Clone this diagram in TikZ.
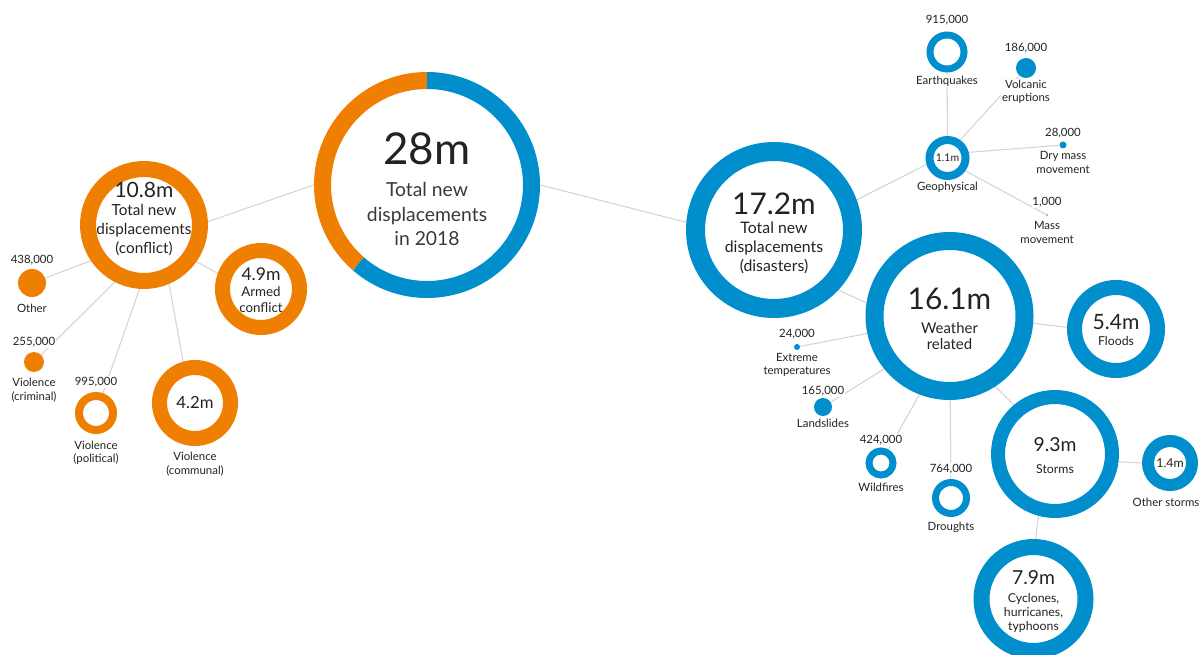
\documentclass[tikz,border=0pt]{standalone}
\usepackage{fontspec}
\setmainfont{Lato}
\usetikzlibrary{backgrounds}
\definecolor{idmcorange}{RGB}{238, 127, 0}
\definecolor{idmcblue}{RGB}{0, 143, 204}
\definecolor{linkgray}{RGB}{212, 212, 212}
\definecolor{inkgray}{RGB}{35, 35, 35}

\tikzset{
    ring/.style n args={3}{circle, draw=#1, fill=white, inner sep=0pt,
        line width=#3*0.02cm, minimum size={(2*#2-#3)*0.02cm}},
    blob/.style 2 args={circle, fill=#1, inner sep=0pt, minimum size={2*#2*0.02cm}},
    link/.style={draw=linkgray, line width=0.6pt},
    tag/.style={font=\fontsize{6.5}{7.6}\selectfont, text=inkgray, align=center, fill=white, inner sep=0.4pt},
    val/.style={text=inkgray, align=center, inner sep=0pt},
}

\begin{document}
\begin{tikzpicture}[x=0.02cm, y=0.02cm]
            \useasboundingbox (0,0) rectangle (1200,-655);
            % Total
            \node[circle, fill=white, inner sep=0pt, minimum size=226*0.02cm] (total) at (427,-185) {};
            \draw[idmcorange, line width=17*0.02cm] ([shift={(90:104.5)}]total.center) arc[start angle=90, end angle=229, radius=104.5];
            \draw[idmcblue,   line width=17*0.02cm] ([shift={(229:104.5)}]total.center) arc[start angle=229, end angle=450, radius=104.5];
            \node[val, font=\fontsize{25}{30}\selectfont] (total-val) at (427,-149) {28m};
            \node[val, font=\fontsize{11}{14.2}\selectfont, text=inkgray!90] (total-txt) at (427,-214) {Total new\\displacements\\in 2018};
            % Conflict side
            \node[ring={idmcorange}{64}{16}] (conflict) at (144,-225) {};
            \node[val, font=\fontsize{12}{14}\selectfont] (conflict-val) at (144,-190) {10.8m};
            \node[val, font=\fontsize{8.7}{10.6}\selectfont] (conflict-txt) at (144,-230) {Total new\\displacements\\(conflict)};
            \node[ring={idmcorange}{46}{15}] (armed) at (261,-289) {};
            \node[val, font=\fontsize{10}{12}\selectfont] (armed-val) at (261,-274) {4.9m};
            \node[val, font=\fontsize{7.6}{9}\selectfont] (armed-txt) at (261,-300) {Armed\\conflict};
            \node[ring={idmcorange}{43}{15}] (communal) at (195,-403) {};
            \node[val, font=\fontsize{9.5}{11}\selectfont] (communal-val) at (195,-403) {4.2m};
            \node[tag] (communal-txt) at (195,-464) {Violence\\(communal)};
            \node[blob={idmcorange}{14}] (other) at (32,-283) {};
            \node[tag] (other-val) at (32,-260) {438,000};
            \node[tag] (other-txt) at (32,-308) {Other};
            \node[blob={idmcorange}{10}] (criminal) at (34,-362) {};
            \node[tag] (criminal-val) at (34,-342) {255,000};
            \node[tag] (criminal-txt) at (34,-390) {Violence\\(criminal)};
            \node[ring={idmcorange}{21}{8}] (political) at (96,-413) {};
            \node[tag] (political-val) at (96,-382) {995,000};
            \node[tag] (political-txt) at (96,-453) {Violence\\(political)};
            % Disaster side
            \node[ring={idmcblue}{88}{19}] (disaster) at (774,-230) {};
            \node[val, font=\fontsize{17}{20}\selectfont] (disaster-val) at (774,-204) {17.2m};
            \node[val, font=\fontsize{9}{10.8}\selectfont] (disaster-txt) at (774,-248) {Total new\\displacements\\(disasters)};
            \node[ring={idmcblue}{84}{18}] (weather) at (949.5,-316) {};
            \node[val, font=\fontsize{17}{20}\selectfont] (weather-val) at (949.5,-299) {16.1m};
            \node[val, font=\fontsize{8.5}{9}\selectfont] (weather-txt) at (949.5,-336) {Weather\\related};
            \node[ring={idmcblue}{49}{15}] (floods) at (1116,-329) {};
            \node[val, font=\fontsize{12}{14}\selectfont] (floods-val) at (1116,-322) {5.4m};
            \node[val, font=\fontsize{7}{8}\selectfont] (floods-txt) at (1116,-341) {Floods};
            % Geophysical
            \node[ring={idmcblue}{22}{8}] (geo) at (947.5,-158) {};
            \node[val, font=\fontsize{6}{7}\selectfont] (geo-val) at (947.5,-158) {1.1m};
            \node[tag] (geo-txt) at (947.5,-187) {Geophysical};
            \node[ring={idmcblue}{20.5}{7}] (quake) at (947,-52) {};
            \node[tag] (quake-val) at (947,-20) {915,000};
            \node[tag] (quake-txt) at (947,-81) {Earthquakes};
            \node[blob={idmcblue}{10}] (volcanic) at (1026,-68) {};
            \node[tag] (volcanic-val) at (1026,-48) {186,000};
            \node[tag] (volcanic-txt) at (1026,-92) {Volcanic\\eruptions};
            \node[blob={idmcblue}{3.5}] (dry) at (1063,-145) {};
            \node[tag] (dry-val) at (1063,-133) {28,000};
            \node[tag] (dry-txt) at (1063,-162.5) {Dry mass\\movement};
            \node[blob={idmcblue!50}{1.3}] (massmv) at (1047,-215) {};
            \node[tag] (massmv-val) at (1047,-202) {1,000};
            \node[tag] (massmv-txt) at (1047,-232.5) {Mass\\movement};
            % Weather related
            \node[blob={idmcblue}{3}] (extreme) at (797,-347) {};
            \node[tag] (extreme-val) at (797,-334) {24,000};
            \node[tag] (extreme-txt) at (797,-365) {Extreme\\temperatures};
            \node[blob={idmcblue}{9}] (landslide) at (823,-407) {};
            \node[tag] (landslide-val) at (823,-391) {165,000};
            \node[tag] (landslide-txt) at (823,-423) {Landslides};
            \node[ring={idmcblue}{15.5}{7}] (wildfire) at (881,-463) {};
            \node[tag] (wildfire-val) at (881,-440) {424,000};
            \node[tag] (wildfire-txt) at (881,-487) {Wildfires};
            \node[ring={idmcblue}{19}{7}] (drought) at (951,-498) {};
            \node[tag] (drought-val) at (951,-469) {764,000};
            \node[tag] (drought-txt) at (951,-527) {Droughts};
            % Storms
            \node[ring={idmcblue}{64}{14}] (storms) at (1055,-454) {};
            \node[val, font=\fontsize{11}{13}\selectfont] (storms-val) at (1055,-445) {9.3m};
            \node[val, font=\fontsize{7}{8}\selectfont] (storms-txt) at (1055,-469) {Storms};
            \node[ring={idmcblue}{28}{12}] (otherstorms) at (1170,-463) {};
            \node[val, font=\fontsize{7}{8}\selectfont] (otherstorms-val) at (1170,-463) {1.4m};
            \node[tag] (otherstorms-txt) at (1166,-502) {Other storms};
            \node[ring={idmcblue}{60}{16}] (cyclones) at (1033.5,-599) {};
            \node[val, font=\fontsize{11}{13}\selectfont] (cyclones-val) at (1033.5,-578) {7.9m};
            \node[val, font=\fontsize{7}{7.7}\selectfont] (cyclones-txt) at (1033.5,-613) {Cyclones,\\hurricanes,\\typhoons};
            % Links behind everything
            \begin{scope}[on background layer]
                \fill[white] (0,0) rectangle (1200,-655);
                \draw[link] (conflict.3) -- (total.west);
                \draw[link] (total.east) -- (disaster.175);
                \draw[link] (conflict.214) -- (other);
                \draw[link] (conflict.243) -- (criminal);
                \draw[link] (conflict.266) -- (political);
                \draw[link] (conflict.-67) -- (communal.106);
                \draw[link] (conflict.-35) -- (armed.160);
                \draw[link] (disaster.20) -- (geo.197);
                \draw[link] (disaster.-43) -- (weather.171);
                \draw[link] (geo) -- (quake);
                \draw[link] (geo.55) -- (volcanic);
                \draw[link] (geo.15) -- (dry);
                \draw[link] (geo.-36) -- (massmv);
                \draw[link] (weather.-5) -- (floods.178);
                \draw[link] (weather.192) -- (extreme);
                \draw[link] (weather.219) -- (landslide);
                \draw[link] (weather.249) -- (wildfire);
                \draw[link] (weather) -- (drought);
                \draw[link] (weather.-57) -- (storms.130);
                \draw[link] (storms.-7) -- (otherstorms.180);
                \draw[link] (storms.-105) -- (cyclones.88);
            \end{scope}
\end{tikzpicture}
\end{document}
